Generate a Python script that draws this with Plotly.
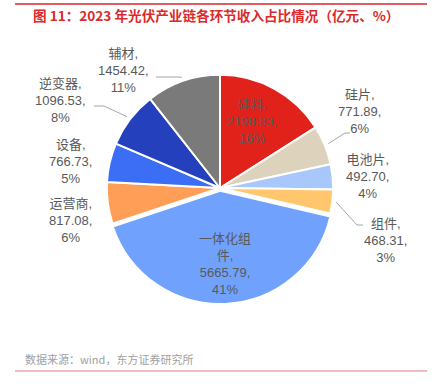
import math
import plotly.graph_objects as go

labels = ["硅料", "硅片", "电池片", "组件", "一体化组件", "运营商", "设备", "逆变器", "辅材"]
values = [2198.83, 771.89, 492.70, 468.31, 5665.79, 817.08, 766.73, 1096.53, 1454.42]
pct_labels = ["16%", "6%", "4%", "3%", "41%", "6%", "5%", "8%", "11%"]
colors = ["#E0221B", "#DDD3BD", "#A8C8FC", "#FFC66E", "#70A2FD", "#FF9F57", "#3C6EF5", "#2440BC", "#7A7A7A"]

W, H = 435, 389
cx, cy, r = 220, 188, 116

FONT = "Liberation Sans, Noto Sans CJK SC, sans-serif"
TXT_COLOR = "#595959"

display_names = {"一体化组件": "一体化组<br>件"}
texts = [f"{display_names.get(l, l)},<br>{v:.2f},<br>{p}" for l, v, p in zip(labels, values, pct_labels)]
pulls = [0.025 if l == "一体化组件" else 0 for l in labels]

# layout of labels (text block centre, in pixels) and leader knees
label_pos = {
    "硅料": (252, 121), "一体化组件": (225, 264),
    "硅片": (359, 111), "电池片": (367, 176), "组件": (385, 240),
    "运营商": (70, 220), "设备": (70, 161), "逆变器": (60, 100), "辅材": (123, 70),
}
leaders = {  # knee point, end point (pixels)
    "硅片": ((345, 133), (350, 133)),
    "组件": ((357, 225), (363, 225)),
    "逆变器": ((104, 106), (94, 106)),
    "辅材": ((178, 77), (156, 77)),
}

def px(x):
    return x / W

def py(y):
    return 1 - y / H

total = sum(values)
annotations = []
shapes = []
cum = 0
for l, v, t in zip(labels, values, texts):
    mid = (cum + v / 2) / total * 2 * math.pi
    cum += v
    x, y = label_pos[l]
    annotations.append(dict(text=t, xref="paper", yref="paper", x=px(x), y=py(y),
                            xanchor="center", yanchor="middle", align="center", showarrow=False,
                            font=dict(family=FONT, size=13, color=TXT_COLOR)))
    if l in leaders:
        ex, ey = cx + (r + 1) * math.sin(mid), cy - (r + 1) * math.cos(mid)
        (kx, ky), (qx, qy) = leaders[l]
        shapes.append(dict(type="path", xref="paper", yref="paper",
                           path=f"M {px(ex)} {py(ey)} L {px(kx)} {py(ky)} L {px(qx)} {py(qy)}",
                           line=dict(color="#A6A6A6", width=1)))

fig = go.Figure(go.Pie(
    labels=labels, values=values, textinfo="none",
    sort=False, direction="clockwise", rotation=0, pull=pulls,
    marker=dict(colors=colors, line=dict(color="white", width=2)),
    showlegend=False, hoverinfo="label+value",
    domain=dict(x=[px(cx - r), px(cx + r)], y=[py(cy + r), py(cy - r)]),
))

shapes += [
    dict(type="line", xref="paper", yref="paper", x0=px(15), x1=px(427), y0=py(4), y1=py(4),
         line=dict(color="#D9262C", width=1.5)),
    dict(type="line", xref="paper", yref="paper", x0=px(15), x1=px(427), y0=py(371), y1=py(371),
         line=dict(color="#E57B7B", width=1)),
]
annotations += [
    dict(text="图 11：2023 年光伏产业链各环节收入占比情况（亿元、%）", xref="paper", yref="paper",
         x=px(216), y=py(15), xanchor="center", yanchor="middle", align="center", showarrow=False,
         font=dict(family="Noto Sans CJK SC", size=13.6, color="#DC2A2A", weight=600)),
    dict(text="数据来源：wind，东方证券研究所", xref="paper", yref="paper",
         x=px(109), y=py(359), xanchor="center", yanchor="middle", align="center", showarrow=False,
         font=dict(family="Noto Sans CJK SC", size=11, color="#A0A0A0")),
]

fig.update_layout(
    width=W, height=H, margin=dict(l=0, r=0, t=0, b=0),
    paper_bgcolor="white", plot_bgcolor="white",
    shapes=shapes, annotations=annotations,
)

fig.write_html("out.html", config={"displayModeBar": False},
               post_script="document.body.style.margin='0';")
